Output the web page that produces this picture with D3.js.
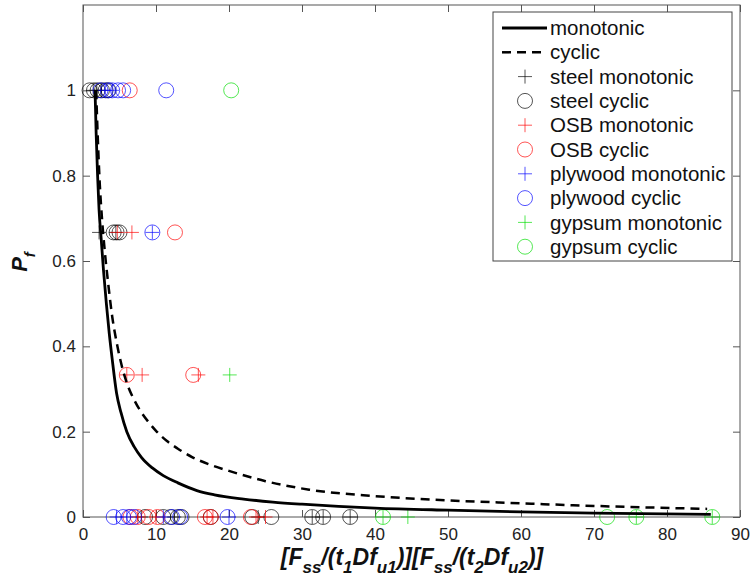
<!DOCTYPE html>
<html><head><meta charset="utf-8">
<script src="https://cdn.jsdelivr.net/npm/d3@7"></script>
<style>body{margin:0;background:#fff}svg{display:block}</style>
</head><body>
<svg id="c" width="752" height="580"></svg>
<script>
// ---- data ----
const xTicks = [0,10,20,30,40,50,60,70,80,90];
const yTicks = [0,0.2,0.4,0.6,0.8,1];

const monoCurveX = [1.65,1.8,2.0,2.2,2.5,2.8,3.2,3.6,4.0,4.6,5.2,6.0,7.0,8.0,9.5,11,13,15.6,18,22,26,30,35,40,50,60,70,86];
const monoCurveY = [1.0,0.9,0.8,0.72,0.65,0.58,0.5,0.43,0.37,0.29,0.245,0.2,0.165,0.14,0.115,0.097,0.08,0.062,0.052,0.042,0.035,0.03,0.025,0.021,0.016,0.012,0.009,0.006];
const cycCurveX = [1.8,2.0,2.3,2.6,3.0,3.5,4.0,4.6,5.3,6.2,7.0,8.0,9.0,10,11.5,13,15,17.5,20,25,31,40,50,57,70,85.5];
const cycCurveY = [1.0,0.9,0.78,0.7,0.62,0.54,0.47,0.41,0.355,0.305,0.275,0.245,0.222,0.202,0.178,0.16,0.14,0.122,0.108,0.084,0.064,0.049,0.039,0.034,0.026,0.019];

const steelMonoX = [1.4,1.9,2.5,2.2,4.5,8.0,12.5,24.0,31.4,32.9,36.6];
const steelMonoY = [1,1,1,0.667,0.667,0,0,0,0,0,0];
const steelCycX = [0.9,1.5,2.0,2.6,3.1,3.5,4.2,4.6,5.0,8.5,11.0,12.0,13.0,13.5,17.5,23.2,25.8,31.4,32.9,36.6];
const steelCycY = [1,1,1,1,1,1,0.667,0.667,0.667,0,0,0,0,0,0,0,0,0,0,0];
const osbMonoX = [4.7,6.7,6.0,8.1,15.8,7.5,10.0,17.0,17.8,23.7,25.0];
const osbMonoY = [0.667,0.667,0.333,0.333,0.333,0,0,0,0,0,0];
const osbCycX = [6.4,12.6,6.0,15.1,6.5,7.5,9.0,10.2,16.7,17.5,23.0];
const osbCycY = [1,0.667,0.333,0.333,0,0,0,0,0,0,0];
const plyMonoX = [3.0,4.0,9.5,4.6,6.0,11.0,20.0];
const plyMonoY = [1,1,0.667,0,0,0,0];
const plyCycX = [2.4,3.4,4.0,4.8,5.5,11.4,9.5,4.2,5.5,6.3,7.0,12.2,13.3,19.8];
const plyCycY = [1,1,1,1,1,1,0.667,0,0,0,0,0,0,0];
const gypMonoX = [20.1,41.1,44.5,75.8,86.2];
const gypMonoY = [0.333,0,0,0,0];
const gypCycX = [20.3,41.1,71.8,75.8,86.2];
const gypCycY = [1,0,0,0,0];

const seriesNames = ["steel monotonic","steel cyclic","OSB monotonic","OSB cyclic","plywood monotonic","plywood cyclic","gypsum monotonic","gypsum cyclic"];
const seriesColors = ["#000000","#000000","#ff0000","#ff0000","#0000ff","#0000ff","#00dd00","#00dd00"];

// ---- chart ----
const svg = d3.select("#c");
const font = "'Liberation Sans', Arial, sans-serif";
const L=83, R=740, T=5, B=517;
const x = d3.scaleLinear().domain([0,90]).range([L,R]);
const y = d3.scaleLinear().domain([0,1.2]).range([B,T]);

svg.append("rect").attr("width",752).attr("height",580).attr("fill","#fff");

function styleAxis(g){
  g.select(".domain").remove();
  g.selectAll(".tick line").attr("stroke","#555").attr("stroke-width",1);
  g.selectAll(".tick text").attr("fill","#222").style("font-family",font).style("font-size","17px");
}
svg.append("g").attr("transform",`translate(0,${B})`)
  .call(d3.axisBottom(x).tickValues(xTicks).tickSizeInner(-7).tickSizeOuter(0).tickPadding(11).tickFormat(d3.format("d")))
  .call(styleAxis);
svg.append("g").attr("transform",`translate(${L},0)`)
  .call(d3.axisLeft(y).tickValues(yTicks).tickSizeInner(-7).tickSizeOuter(0).tickPadding(7).tickFormat(d=>d===0?"0":d===1?"1":d3.format(".1f")(d)))
  .call(styleAxis);
svg.append("g").attr("transform",`translate(0,${T})`)
  .call(d3.axisTop(x).tickValues(xTicks).tickSizeInner(-7).tickSizeOuter(0).tickFormat(""))
  .call(styleAxis);
svg.append("g").attr("transform",`translate(${R},0)`)
  .call(d3.axisRight(y).tickValues(yTicks).tickSizeInner(-7).tickSizeOuter(0).tickFormat(""))
  .call(styleAxis);

svg.append("rect").attr("x",L).attr("y",T).attr("width",R-L).attr("height",B-T)
  .attr("fill","none").attr("stroke","#555").attr("stroke-width",1);

const plusPath = "M-7,0H7M0,-7V7";
const seriesX = [steelMonoX,steelCycX,osbMonoX,osbCycX,plyMonoX,plyCycX,gypMonoX,gypCycX];
const seriesY = [steelMonoY,steelCycY,osbMonoY,osbCycY,plyMonoY,plyCycY,gypMonoY,gypCycY];
const markerG = svg.append("g");
seriesX.forEach((xs,i)=>{
  const pts = xs.map((v,j)=>[v,seriesY[i][j]]);
  const isCircle = i%2===1;
  const sel = markerG.append("g").attr("fill","none").attr("stroke",seriesColors[i]).attr("stroke-width",0.9).attr("stroke-opacity",0.75);
  if(isCircle){
    sel.selectAll("circle").data(pts).join("circle")
      .attr("cx",d=>x(d[0])).attr("cy",d=>y(d[1])).attr("r",7.5);
  } else {
    sel.selectAll("path").data(pts).join("path")
      .attr("d",plusPath).attr("transform",d=>`translate(${x(d[0])},${y(d[1])})`);
  }
});

const line = d3.line().x(d=>x(d[0])).y(d=>y(d[1])).curve(d3.curveMonotoneX);
svg.append("path").datum(monoCurveX.map((v,i)=>[v,monoCurveY[i]]))
  .attr("d",line).attr("fill","none").attr("stroke","#000").attr("stroke-width",2.8);
svg.append("path").datum(cycCurveX.map((v,i)=>[v,cycCurveY[i]]))
  .attr("d",line).attr("fill","none").attr("stroke","#000").attr("stroke-width",2.5).attr("stroke-dasharray","9,6");

// legend
const lg = svg.append("g");
lg.append("rect").attr("x",493).attr("y",12).attr("width",239).attr("height",249)
  .attr("fill","#fff").attr("stroke","#444").attr("stroke-width",1);
const legendLabels = ["monotonic","cyclic"].concat(seriesNames);
legendLabels.forEach((lab,i)=>{
  const cy = 28 + i*24.3;
  if(i===0){
    lg.append("line").attr("x1",502).attr("x2",547).attr("y1",cy).attr("y2",cy).attr("stroke","#000").attr("stroke-width",2.8);
  } else if(i===1){
    lg.append("line").attr("x1",502).attr("x2",547).attr("y1",cy).attr("y2",cy).attr("stroke","#000").attr("stroke-width",2.5).attr("stroke-dasharray","9,6");
  } else {
    const k=i-2;
    if(k%2===1){
      lg.append("circle").attr("cx",525).attr("cy",cy).attr("r",7.5).attr("fill","none").attr("stroke",seriesColors[k]).attr("stroke-width",0.9).attr("stroke-opacity",0.75);
    } else {
      lg.append("path").attr("d",plusPath).attr("transform",`translate(525,${cy})`).attr("fill","none").attr("stroke",seriesColors[k]).attr("stroke-width",0.9).attr("stroke-opacity",0.75);
    }
  }
  lg.append("text").attr("x",550).attr("y",cy).attr("dy","0.35em").text(lab)
    .style("font-family",font).style("font-size","20.5px").attr("fill","#111");
});

// axis labels
const xl = svg.append("text").attr("x",412).attr("y",565).attr("text-anchor","middle")
  .style("font-family",font).style("font-size","23px").style("font-weight","bold").style("font-style","italic").attr("fill","#111");
const parts = [["[F",0],["ss",1],["/(t",0],["1",1],["Df",0],["u1",1],[")][F",0],["ss",1],["/(t",0],["2",1],["Df",0],["u2",1],[")]",0]];
let shifted=false;
parts.forEach(([t,sub])=>{
  const ts = xl.append("tspan").text(t);
  if(sub){ ts.style("font-size","17px").attr("dy", shifted?0:8); shifted=true; }
  else { if(shifted){ ts.attr("dy",-8); } shifted=false; }
});
const yl = svg.append("text").attr("transform","translate(27,262) rotate(-90)").attr("text-anchor","middle")
  .style("font-family",font).style("font-size","22px").style("font-weight","bold").style("font-style","italic").attr("fill","#111");
yl.append("tspan").text("P");
yl.append("tspan").text("f").style("font-size","15px").attr("dy",8);
</script>
</body></html>
